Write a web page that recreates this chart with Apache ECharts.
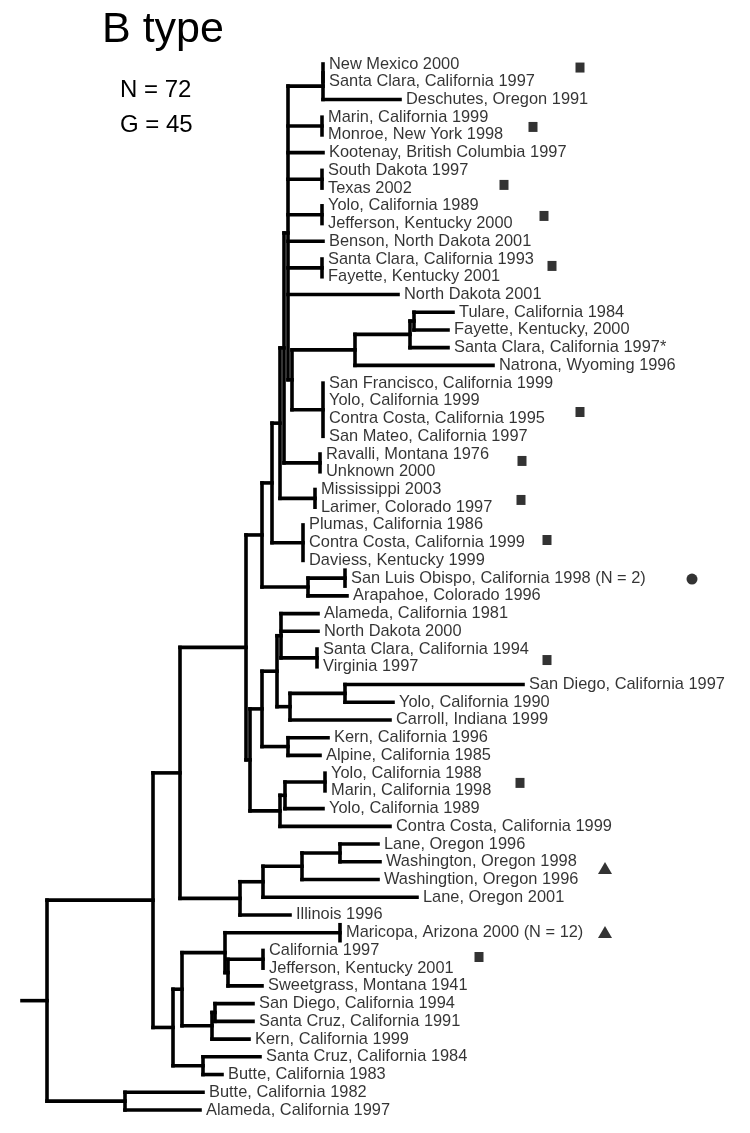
<!DOCTYPE html>
<html><head><meta charset="utf-8">
<script src="https://cdn.jsdelivr.net/npm/echarts@6/dist/echarts.min.js"></script>
<style>html,body{margin:0;padding:0;background:#fff}#c{width:750px;height:1133px}</style>
</head><body><div id="c"></div>
<script>
// ---- leaves, top to bottom ----
const leafNames = [
 "New Mexico 2000","Santa Clara, California 1997","Deschutes, Oregon 1991",
 "Marin, California 1999","Monroe, New York 1998","Kootenay, British Columbia 1997",
 "South Dakota 1997","Texas 2002","Yolo, California 1989","Jefferson, Kentucky 2000",
 "Benson, North Dakota 2001","Santa Clara, California 1993","Fayette, Kentucky 2001",
 "North Dakota 2001","Tulare, California 1984","Fayette, Kentucky, 2000",
 "Santa Clara, California 1997*","Natrona, Wyoming 1996","San Francisco, California 1999",
 "Yolo, California 1999","Contra Costa, California 1995","San Mateo, California 1997",
 "Ravalli, Montana 1976","Unknown 2000","Mississippi 2003","Larimer, Colorado 1997",
 "Plumas, California 1986","Contra Costa, California 1999","Daviess, Kentucky 1999",
 "San Luis Obispo, California 1998 (N = 2)","Arapahoe, Colorado 1996",
 "Alameda, California 1981","North Dakota 2000","Santa Clara, California 1994",
 "Virginia 1997","San Diego, California 1997","Yolo, California 1990",
 "Carroll, Indiana 1999","Kern, California 1996","Alpine, California 1985",
 "Yolo, California 1988","Marin, California 1998","Yolo, California 1989",
 "Contra Costa, California 1999","Lane, Oregon 1996","Washington, Oregon 1998",
 "Washingtion, Oregon 1996","Lane, Oregon 2001","Illinois 1996",
 "Maricopa, Arizona 2000 (N = 12)","California 1997","Jefferson, Kentucky 2001",
 "Sweetgrass, Montana 1941","San Diego, California 1994","Santa Cruz, California 1991",
 "Kern, California 1999","Santa Cruz, California 1984","Butte, California 1983",
 "Butte, California 1982","Alameda, California 1997"
];
// distance of each tip from the root stub (tree units)
const tipDepth = [
 301,301,378,300,300,301,300,300,300,300,
 301,300,300,376,431,426,426,471,301,301,
 301,301,298,298,293,293,281,281,281,323,
 325,296,296,295,295,501,371,368,306,298,
 303,303,301,368,356,358,356,395,268,318,
 241,241,240,231,231,227,238,200,181,178
];
// collapsed tips (several identical isolates)
const collapsedLeaves = [29, 49];

// ---- internal nodes: first leaf, last leaf ----
const cladeRanges = [
 [0,59],[0,57],[0,48],[0,43],[0,30],[0,28],[0,25],[0,23],[0,21],
 [0,1],[0,2],[3,4],[6,7],[8,9],[11,12],
 [14,21],[14,17],[14,16],[14,15],[18,21],[22,23],[24,25],[26,28],[29,30],
 [31,43],[31,39],[31,37],[31,34],[33,34],[35,37],[35,36],[38,39],
 [40,43],[40,42],[40,41],
 [44,48],[44,47],[44,46],[44,45],
 [58,59],[49,57],[49,55],[49,52],[50,52],[50,51],[53,55],[53,54],[56,57]
];
// depth of each internal node (tree units)
const cladeDepth = [
 25,131,158,224,240,250,258,262,266,
 301,301,300,300,300,300,
 270,333,388,392,301,298,293,281,286,
 228,240,255,259,295,268,323,266,
 258,263,303,
 218,241,280,318,
 103,151,160,203,206,241,190,193,181
];

// ---- group markers ----
const markerPos   = [0.2,3.55,6.82,8.57,11.39,19.63,22.39,24.59,26.85,29.05,33.62,40.55,45.35,48.96,50.37];
const markerDepth = [558,511,482,522,530,558,500,499,525,670,525,498,583,583,457];
const markerShape = ["rect","rect","rect","rect","rect","rect","rect","rect","rect","circle","rect","rect","triangle","triangle","rect"];

const titleText = "B type";
const statLines = ["N = 72","G = 45"];

// ---- build tree geometry ----
const clades = cladeRanges.map((r,k)=>({s:r[0],e:r[1],x:cladeDepth[k],kids:[],y:0,parent:-1}));
function smallestContaining(s,e,self){
  let best=-1,bs=1e9;
  clades.forEach((c,k)=>{
    if(k===self) return;
    const sz=c.e-c.s;
    if(c.s<=s && c.e>=e && sz>(e-s) && sz<bs){best=k;bs=sz;}
  });
  return best;
}
const leafParent = leafNames.map((_,i)=>smallestContaining(i,i,-1));
clades.forEach((c,k)=>{c.parent=smallestContaining(c.s,c.e,k);});
leafParent.forEach((p,i)=>clades[p].kids.push({y:()=>i}));
clades.forEach((c,k)=>{ if(c.parent>=0) clades[c.parent].kids.push({y:()=>clades[k].y}); });
const order = clades.map((c,k)=>k).sort((a,b)=>(clades[a].e-clades[a].s)-(clades[b].e-clades[b].s));
const vRange = {};
order.forEach(k=>{
  const ys = clades[k].kids.map(q=>q.y());
  const lo=Math.min(...ys), hi=Math.max(...ys);
  vRange[k]=[lo,hi];
  clades[k].y=(lo+hi)/2;
});
const segs=[];
leafNames.forEach((_,i)=>{ segs.push([clades[leafParent[i]].x,i,tipDepth[i],i]); });
clades.forEach((c,k)=>{
  if(c.parent>=0) segs.push([clades[c.parent].x,c.y,c.x,c.y]);
  else segs.push([0,c.y,c.x,c.y]);
  segs.push([c.x,vRange[k][0],c.x,vRange[k][1]]);
});
collapsedLeaves.forEach(i=>segs.push([tipDepth[i],i-0.45,tipDepth[i],i+0.45]));

const labelData = leafNames.map((n,i)=>({name:n,value:[tipDepth[i],i]}));
const markerData = markerPos.map((p,k)=>({
  value:[markerDepth[k],p], symbol:markerShape[k],
  symbolSize: markerShape[k]==='rect'?[9,10]:(markerShape[k]==='circle'?11:[14,12])
}));

const FONT='"Liberation Sans", Arial, sans-serif';
const chart = echarts.init(document.getElementById('c'), null, {renderer:'canvas'});
chart.setOption({
  animation:false,
  backgroundColor:'#fff',
  grid:{left:22, top:64, width:728, height:1046},
  xAxis:{type:'value', min:0, max:728, show:false},
  yAxis:{type:'value', min:0, max:leafNames.length-1, inverse:true, show:false},
  graphic:[
    {type:'text', x:102, y:30, style:{text:titleText, font:'43px '+FONT, fill:'#000', align:'left', verticalAlign:'middle', textVerticalAlign:'middle'}},
    {type:'text', x:120, y:90, style:{text:statLines[0], font:'24px '+FONT, fill:'#000', align:'left', verticalAlign:'middle', textVerticalAlign:'middle'}},
    {type:'text', x:120, y:125, style:{text:statLines[1], font:'24px '+FONT, fill:'#000', align:'left', verticalAlign:'middle', textVerticalAlign:'middle'}}
  ],
  series:[
    {
      type:'custom', data:segs, encode:{x:[0,2], y:[1,3]}, clip:false,
      renderItem:function(params, api){
        const a=api.coord([api.value(0),api.value(1)]);
        const b=api.coord([api.value(2),api.value(3)]);
        return {type:'line', shape:{x1:a[0],y1:a[1],x2:b[0],y2:b[1]},
          style:{stroke:'#000', lineWidth:3.6, lineCap:'square'}};
      }
    },
    {
      type:'scatter', data:labelData, symbolSize:0, silent:true,
      itemStyle:{color:'rgba(0,0,0,0)'},
      label:{show:true, position:'right', distance:6, formatter:'{b}',
        color:'#000', fontFamily:FONT, fontSize:16.4}
    },
    {
      type:'scatter', data:markerData, itemStyle:{color:'#000'}, silent:true
    }
  ]
});
</script></body></html>
